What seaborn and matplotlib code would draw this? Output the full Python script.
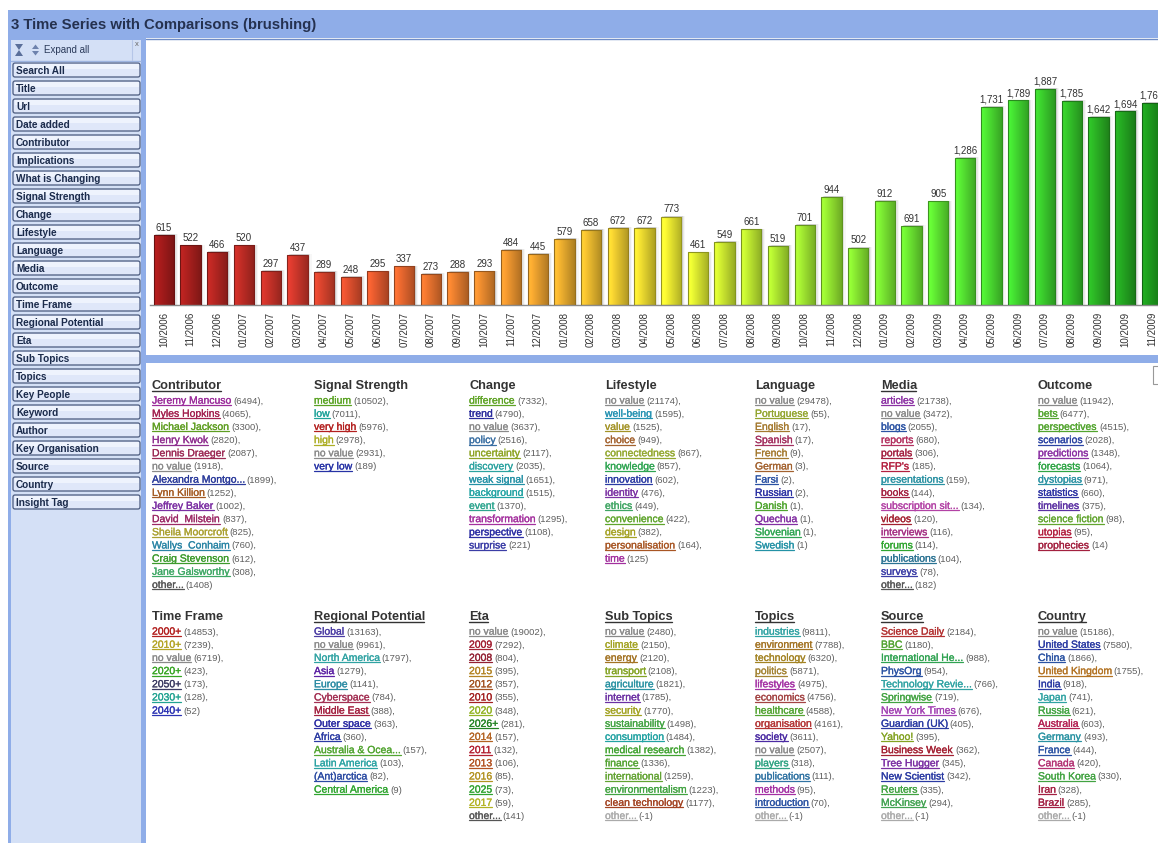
import numpy as np
import pandas as pd
import matplotlib
matplotlib.use("Agg")
import matplotlib.pyplot as plt
import matplotlib.patheffects as pe
from matplotlib import font_manager
from matplotlib.colors import LinearSegmentedColormap, to_rgb
from matplotlib.patches import Rectangle, FancyBboxPatch, Polygon
import seaborn as sns

# ---------------------------------------------------------------
# Data
# ---------------------------------------------------------------
title = "3 Time Series with Comparisons (brushing)"

months = ["10/2006", "11/2006", "12/2006", "01/2007", "02/2007", "03/2007", "04/2007",
          "05/2007", "06/2007", "07/2007", "08/2007", "09/2007", "10/2007", "11/2007",
          "12/2007", "01/2008", "02/2008", "03/2008", "04/2008", "05/2008", "06/2008",
          "07/2008", "08/2008", "09/2008", "10/2008", "11/2008", "12/2008", "01/2009",
          "02/2009", "03/2009", "04/2009", "05/2009", "06/2009", "07/2009", "08/2009",
          "09/2009", "10/2009", "11/2009"]
counts = [615, 522, 466, 520, 297, 437, 289, 248, 295, 337, 273, 288, 293, 484,
          445, 579, 658, 672, 672, 773, 461, 549, 661, 519, 701, 944, 502, 912,
          691, 905, 1286, 1731, 1789, 1887, 1785, 1642, 1694, 1765]

sidebar_buttons = ["Search All", "Title", "Url", "Date added", "Contributor", "Implications",
                   "What is Changing", "Signal Strength", "Change", "Lifestyle", "Language",
                   "Media", "Outcome", "Time Frame", "Regional Potential", "Eta", "Sub Topics",
                   "Topics", "Key People", "Keyword", "Author", "Key Organisation", "Source",
                   "Country", "Insight Tag"]

contributor_names = ["Jeremy Mancuso", "Myles Hopkins", "Michael Jackson", "Henry Kwok",
                     "Dennis Draeger", "no value", "Alexandra Montgo...", "Lynn Killion",
                     "Jeffrey Baker", "David  Milstein", "Sheila Moorcroft", "Wallys  Conhaim",
                     "Craig Stevenson", "Jane Galsworthy", "other..."]
contributor_counts = [6494, 4065, 3300, 2820, 2087, 1918, 1899, 1252, 1002, 837, 825, 760, 612, 308, 1408]

signal_names = ["medium", "low", "very high", "high", "no value", "very low"]
signal_counts = [10502, 7011, 5976, 2978, 2931, 189]

change_names = ["difference", "trend", "no value", "policy", "uncertainty", "discovery",
                "weak signal", "background", "event", "transformation", "perspective", "surprise"]
change_counts = [7332, 4790, 3637, 2516, 2117, 2035, 1651, 1515, 1370, 1295, 1108, 221]

lifestyle_names = ["no value", "well-being", "value", "choice", "connectedness", "knowledge",
                   "innovation", "identity", "ethics", "convenience", "design",
                   "personalisation", "time"]
lifestyle_counts = [21174, 1595, 1525, 949, 867, 857, 602, 476, 449, 422, 382, 164, 125]

language_names = ["no value", "Portuguese", "English", "Spanish", "French", "German", "Farsi",
                  "Russian", "Danish", "Quechua", "Slovenian", "Swedish"]
language_counts = [29478, 55, 17, 17, 9, 3, 2, 2, 1, 1, 1, 1]

media_names = ["articles", "no value", "blogs", "reports", "portals", "RFP's", "presentations",
               "books", "subscription sit...", "videos", "interviews", "forums", "publications",
               "surveys", "other..."]
media_counts = [21738, 3472, 2055, 680, 306, 185, 159, 144, 134, 120, 116, 114, 104, 78, 182]

outcome_names = ["no value", "bets", "perspectives", "scenarios", "predictions", "forecasts",
                 "dystopias", "statistics", "timelines", "science fiction", "utopias", "prophecies"]
outcome_counts = [11942, 6477, 4515, 2028, 1348, 1064, 971, 660, 375, 98, 95, 14]

timeframe_names = ["2000+", "2010+", "no value", "2020+", "2050+", "2030+", "2040+"]
timeframe_counts = [14853, 7239, 6719, 423, 173, 128, 52]

regional_names = ["Global", "no value", "North America", "Asia", "Europe", "Cyberspace",
                  "Middle East", "Outer space", "Africa", "Australia & Ocea...", "Latin America",
                  "(Ant)arctica", "Central America"]
regional_counts = [13163, 9961, 1797, 1279, 1141, 784, 388, 363, 360, 157, 103, 82, 9]

eta_names = ["no value", "2009", "2008", "2015", "2012", "2010", "2020", "2026+", "2014",
             "2011", "2013", "2016", "2025", "2017", "other..."]
eta_counts = [19002, 7292, 804, 395, 357, 355, 348, 281, 157, 132, 106, 85, 73, 59, 141]

subtopics_names = ["no value", "climate", "energy", "transport", "agriculture", "internet",
                   "security", "sustainability", "consumption", "medical research", "finance",
                   "international", "environmentalism", "clean technology", "other..."]
subtopics_counts = [2480, 2150, 2120, 2108, 1821, 1785, 1770, 1498, 1484, 1382, 1336, 1259, 1223, 1177, -1]

topics_names = ["industries", "environment", "technology", "politics", "lifestyles", "economics",
                "healthcare", "organisation", "society", "no value", "players", "publications",
                "methods", "introduction", "other..."]
topics_counts = [9811, 7788, 6320, 5871, 4975, 4756, 4588, 4161, 3611, 2507, 318, 111, 95, 70, -1]

source_names = ["Science Daily", "BBC", "International He...", "PhysOrg", "Technology Revie...",
                "Springwise", "New York Times", "Guardian (UK)", "Yahoo!", "Business Week",
                "Tree Hugger", "New Scientist", "Reuters", "McKinsey", "other..."]
source_counts = [2184, 1180, 988, 954, 766, 719, 676, 405, 395, 362, 345, 342, 335, 294, -1]

country_names = ["no value", "United States", "China", "United Kingdom", "India", "Japan",
                 "Russia", "Australia", "Germany", "France", "Canada", "South Korea", "Iran",
                 "Brazil", "other..."]
country_counts = [15186, 7580, 1866, 1755, 918, 741, 621, 603, 493, 444, 420, 330, 328, 285, -1]

# ---------------------------------------------------------------
# Link colours (style only)
# ---------------------------------------------------------------
NV, OT, LT = "#8a8a8a", "#555555", "#aaaaaa"
contributor_colors = ["#9b2c9b", "#a3214f", "#5f9e22", "#8e2d8e", "#9c2a55", NV, "#2b3b9b", "#a45a22",
                      "#7b2fa3", "#9c2a66", "#aaa030", "#2a85a5", "#3d9b2d", "#3ea865", OT]
signal_colors = ["#5aa323", "#1fa39a", "#b3201f", "#adae25", NV, "#2632a5"]
change_colors = ["#5ea324", "#2a2b9c", NV, "#3a6fa3", "#8ea424", "#2ca3a0", "#2491a6", "#22a3a3",
                 "#2ea58f", "#a4309e", "#2b2da3", "#3b3da6"]
lifestyle_colors = [NV, "#2592b2", "#a39326", "#a3622f", "#93a82f", "#2fa552", "#2b3ba3", "#7b31a3",
                    "#3fa563", "#60a52d", "#a5a224", "#a85624", "#a3309e"]
language_colors = [NV, "#93a52f", "#a57a30", "#a3305f", "#a57a30", "#a3622f", "#2b52a3", "#2b31a3",
                   "#4fa52f", "#8330a3", "#2fa552", "#2492a6"]
media_colors = ["#8b30a3", NV, "#2b53a3", "#b3305f", "#a3203f", "#b3203f", "#2b92a3", "#a3203f",
                "#b342a5", "#a3202f", "#a53083", "#2fa52f", "#2b7393", "#3b3da6", OT]
outcome_colors = [NV, "#53a52f", "#53a52f", "#2b43a3", "#8b30a3", "#2fa545", "#2b92a3", "#2b31a3",
                  "#5b30a3", "#62a52f", "#b3203f", "#a3203f"]
timeframe_colors = ["#b3201f", "#b3a323", NV, "#35a521", "#3b3b62", "#22a392", "#2b33b3"]
regional_colors = ["#4a3ba3", NV, "#30a3a3", "#5b20a3", "#2b8ba3", "#a33053", "#a3203f", "#2b2ba3",
                   "#2b3ba3", "#53a532", "#2ba3a3", "#2b4ba3", "#30a530"]
eta_colors = [NV, "#a32032", "#932032", "#b38322", "#a35222", "#a32020", "#92b322", "#228322",
              "#b36322", "#b32032", "#b35222", "#b39322", "#30a330", "#b3b322", OT]
subtopics_colors = [NV, "#a3a323", "#a37323", "#83a323", "#2b93a3", "#6b30a3", "#a3a323", "#42a342",
                    "#23a3a3", "#42a332", "#53a332", "#62a332", "#42a342", "#a34322", LT]
topics_colors = ["#30a3a3", "#a37323", "#a38323", "#a38333", "#a330a3", "#a34343", "#53a332", "#b33232",
                 "#4b2ba3", NV, "#30a383", "#3073a3", "#a330a3", "#2b53a3", LT]
source_colors = ["#b33232", "#53a332", "#30a352", "#2b53a3", "#30a3a3", "#42a342", "#a342b3", "#2b3ba3",
                 "#83a323", "#a32032", "#7b30a3", "#2b3ba3", "#42a342", "#42a352", LT]
country_colors = [NV, "#2b3ba3", "#2b53a3", "#b37323", "#2b3ba3", "#30a3a3", "#42a342", "#b32052",
                  "#2b93a3", "#2b53a3", "#b33273", "#42a342", "#a32042", "#a32042", LT]

# red -> orange -> yellow -> green ramp for the bars
ramp_stops = [(0, "#a81c1c"), (5, "#d83a2e"), (8, "#ec5e30"), (13, "#f29a30"), (16, "#f2c030"),
              (19, "#f4f232"), (23, "#b4ee32"), (29, "#62ee34"), (32, "#44e032"), (37, "#1e9e1e")]

# ---------------------------------------------------------------
# Fonts
# ---------------------------------------------------------------
sns.set_theme(style="white")
installed = {f.name for f in font_manager.fontManager.ttflist}
HAS_NARROW = "Liberation Sans Narrow" in installed
plt.rcParams["font.family"] = ["Liberation Sans", "DejaVu Sans"]


def fnt(size_narrow, size_wide):
    if HAS_NARROW:
        return dict(family=["Liberation Sans Narrow", "DejaVu Sans"], fontsize=size_narrow)
    return dict(family=["Liberation Sans", "DejaVu Sans"], fontsize=size_wide)


# ---------------------------------------------------------------
# Canvas in pixel coordinates
# ---------------------------------------------------------------
W, H = 1158, 843
fig = plt.figure(figsize=(W / 100, H / 100), dpi=100)
bg = fig.add_axes([0, 0, 1, 1], zorder=0)
bg.set_xlim(0, W)
bg.set_ylim(H, 0)
bg.axis("off")

BLUE = "#8fade8"
# title bar
bg.add_patch(Rectangle((8, 10), W - 8, 28, fc=BLUE, ec="none"))
bg.text(11, 25, title, color="#25314f", fontweight="bold", va="center", ha="left", **fnt(12, 10.7))

# sidebar
bg.add_patch(Rectangle((8, 38), 138, H - 38, fc=BLUE, ec="none"))
bg.add_patch(Rectangle((11, 40), 130, H - 40, fc="#d4e0f6", ec="none"))
bg.plot([11, 141], [60.5, 60.5], color="#9db4e0", lw=1)
bg.plot([132, 132], [40, 60], color="#b5c6e8", lw=0.8)
bg.add_patch(Polygon([(15, 44), (23, 44), (19, 50), (23, 56), (15, 56), (19, 50)],
                     closed=True, fc="#5a6f9a", ec="none"))
bg.add_patch(Polygon([(32, 49), (39, 49), (35.5, 44.5)], closed=True, fc="#6d82ad", ec="none"))
bg.add_patch(Polygon([(32, 51), (39, 51), (35.5, 55.5)], closed=True, fc="#6d82ad", ec="none"))
bg.text(44, 50, "Expand all", color="#2a3a5a", va="center", ha="left", **fnt(8, 7))
bg.text(136.5, 44, "x", color="#666", va="center", ha="center", fontsize=5.5)
for i, name in enumerate(sidebar_buttons):
    cy = 70 + i * 18
    bg.add_patch(FancyBboxPatch((13, cy - 7), 127, 14, boxstyle="round,pad=0,rounding_size=2",
                                fc="#dfe7f9", ec="#4a5a7e", lw=0.9))
    bg.add_patch(Rectangle((14.5, cy - 6), 124, 5, fc="#eef3fd", ec="none"))
    bg.text(16, cy + 0.5, name, color="#1b2b4b", fontweight="bold", va="center", ha="left",
            **fnt(8.5, 7.2))

# chart panel, separator strip, facets panel
bg.add_patch(Rectangle((146, 38), W - 146, 317, fc="white", ec="none"))
bg.plot([146, W], [38.5, 38.5], color="#6f8cc6", lw=1)
bg.add_patch(Rectangle((146, 355), W - 146, 8, fc=BLUE, ec="none"))
bg.add_patch(Rectangle((146, 363), W - 146, H - 363, fc="white", ec="none"))
bg.add_patch(Rectangle((1153, 366), 8, 18, fc="white", ec="#999999", lw=0.8))

# ---------------------------------------------------------------
# Bar chart
# ---------------------------------------------------------------
ax = fig.add_axes([150 / W, 1 - 305 / H, 1 - 150 / W, (305 - 40) / H], zorder=1)
ax.patch.set_alpha(0)

cmap = LinearSegmentedColormap.from_list("ramp", [(p / 37, c) for p, c in ramp_stops])
bar_colors = [cmap(i / (len(months) - 1)) for i in range(len(months))]

df = pd.DataFrame({"month": months, "articles": counts})
sns.barplot(data=df, x="month", y="articles", hue="month", palette=bar_colors, saturation=1,
            legend=False, width=0.76, ax=ax)

bars = list(ax.patches)
for patch in bars:
    x0, w, h = patch.get_x(), patch.get_width(), patch.get_height()
    rgb = np.array(to_rgb(patch.get_facecolor()))
    shade = np.linspace(1.12, 0.72, 40)
    grad = np.clip(rgb[None, None, :] * shade[None, :, None], 0, 1)
    # soft drop shadow to the right
    for k, a in ((0.05, 0.10), (0.10, 0.06), (0.15, 0.03)):
        ax.add_patch(Rectangle((x0 + k, 0), w, h + 6, fc="black", alpha=a, lw=0, zorder=1.5))
    im = ax.imshow(grad, extent=[x0, x0 + w, 0, h], aspect="auto", zorder=2,
                   interpolation="bilinear")
    im.set_clip_path(patch)
    patch.set_facecolor("none")
    patch.set_edgecolor(rgb * 0.62)
    patch.set_linewidth(0.8)
    patch.set_zorder(3)

for cont in ax.containers:
    ax.bar_label(cont, labels=[f"{v:,.0f}" for v in cont.datavalues], padding=1.5,
                 color="#333333", **fnt(8.5, 7))

ax.set_xlim(-0.52, 37.23)
ax.set_ylim(0, 2315)
ax.set_yticks([])
ax.set_xlabel("")
ax.set_ylabel("")
sns.despine(ax=ax, left=True)
ax.spines["bottom"].set_color("#8a8a8a")
ax.spines["bottom"].set_linewidth(1)
ax.tick_params(axis="x", length=0, pad=5, rotation=90, labelcolor="#333333")
for lab in ax.get_xticklabels():
    lab.set_fontsize(fnt(8.3, 7)["fontsize"])
    lab.set_family(fnt(8.3, 7)["family"])

# ---------------------------------------------------------------
# Facet lists
# ---------------------------------------------------------------
renderer = fig.canvas.get_renderer()
inv = bg.transData.inverted()
STEP = 13.17


def draw_facet(x0, y_head, header, underline, names, values, colors):
    ht = bg.text(x0, y_head + 5, header, color="#333333", fontweight="bold", va="baseline",
                 ha="left", **fnt(11, 9.2))
    if underline:
        bb = ht.get_window_extent(renderer)
        xr = inv.transform((bb.x1, 0))[0]
        bg.plot([x0, xr - 1], [y_head + 6.7, y_head + 6.7], color="#333333", lw=1)
    for i, (name, val, col) in enumerate(zip(names, values, colors)):
        yb = y_head + 19.6 + i * STEP
        t = bg.text(x0, yb, name, color=col, va="baseline", ha="left",
                    family=["Liberation Sans", "DejaVu Sans"], fontsize=7.5,
                    path_effects=[pe.withStroke(linewidth=0.2, foreground=col)])
        bb = t.get_window_extent(renderer)
        xr = inv.transform((bb.x1, 0))[0]
        bg.plot([x0, xr], [yb + 1.4, yb + 1.4], color=col, lw=0.9)
        tail = f"({val})," if i < len(names) - 1 else f"({val})"
        bg.text(xr + 2, yb, tail, color="#5f5f5f", va="baseline", ha="left", **fnt(7.5, 6.8))


row1, row2 = 384, 615
draw_facet(152, row1, "Contributor", True, contributor_names, contributor_counts, contributor_colors)
draw_facet(314, row1, "Signal Strength", False, signal_names, signal_counts, signal_colors)
draw_facet(469, row1, "Change", False, change_names, change_counts, change_colors)
draw_facet(605, row1, "Lifestyle", False, lifestyle_names, lifestyle_counts, lifestyle_colors)
draw_facet(755, row1, "Language", False, language_names, language_counts, language_colors)
draw_facet(881, row1, "Media", True, media_names, media_counts, media_colors)
draw_facet(1038, row1, "Outcome", False, outcome_names, outcome_counts, outcome_colors)
draw_facet(152, row2, "Time Frame", False, timeframe_names, timeframe_counts, timeframe_colors)
draw_facet(314, row2, "Regional Potential", True, regional_names, regional_counts, regional_colors)
draw_facet(469, row2, "Eta", True, eta_names, eta_counts, eta_colors)
draw_facet(605, row2, "Sub Topics", True, subtopics_names, subtopics_counts, subtopics_colors)
draw_facet(755, row2, "Topics", True, topics_names, topics_counts, topics_colors)
draw_facet(881, row2, "Source", True, source_names, source_counts, source_colors)
draw_facet(1038, row2, "Country", True, country_names, country_counts, country_colors)

fig.savefig("out.png", dpi=100)
plt.close(fig)
